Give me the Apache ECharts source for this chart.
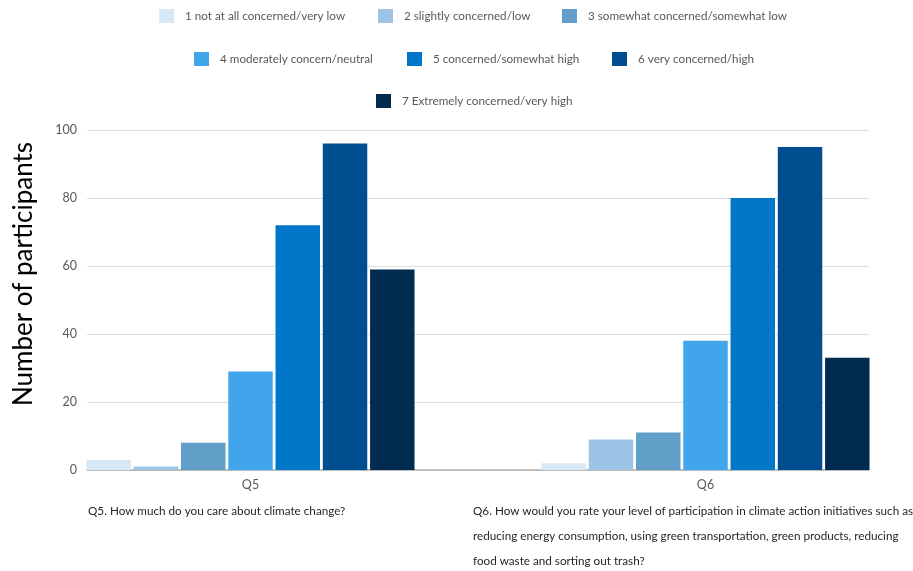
<!DOCTYPE html>
<html>
<head>
<meta charset="utf-8">
<script src="https://cdn.jsdelivr.net/npm/echarts@6/dist/echarts.min.js"></script>
<style>
  html, body { margin: 0; padding: 0; background: #ffffff; }
  #chart { width: 913px; height: 571px; }
</style>
</head>
<body>
<div id="chart"></div>
<script>
// Survey answers per question, counted per rating level
const categories = ['Q5', 'Q6'];
const levels = [
  '1 not at all concerned/very low',
  '2 slightly concerned/low',
  '3 somewhat concerned/somewhat low',
  '4 moderately concern/neutral',
  '5 concerned/somewhat high',
  '6 very concerned/high',
  '7 Extremely concerned/very high'
];
const q5Counts = [3, 1, 8, 29, 72, 96, 59];
const q6Counts = [2, 9, 11, 38, 80, 95, 33];
const yTicks = { min: 0, max: 100, interval: 20 };
const questions = [
  ['Q5. How much do you care about climate change?'],
  ['Q6. How would you rate your level of participation in climate action initiatives such as',
   'reducing energy consumption, using green transportation, green products, reducing',
   'food waste and sorting out trash?']
];
const yTitle = 'Number of participants';

const palette = ['#d9e8f5', '#9dc3e6', '#619ec8', '#40a5eb', '#0077c8', '#004d8f', '#012c50'];
const FONT = 'Lato';
const SMALL = 11.7;

// legend: one small legend per entry, laid out in three centred rows
const legendSpots = [
  [159, 9], [378, 9], [562, 9],
  [194, 52], [407, 52], [612, 52],
  [376, 94]
];
const legends = levels.map((name, i) => ({
  data: [name],
  left: legendSpots[i][0],
  top: legendSpots[i][1],
  padding: 0,
  icon: 'rect',
  itemWidth: 15,
  itemHeight: 14,
  selectedMode: false,
  textStyle: { fontFamily: FONT, fontSize: SMALL, color: '#595959', padding: [0, 0, 0, 6] }
}));

const series = levels.map((name, i) => ({
  name: name,
  type: 'bar',
  xAxisIndex: 1,
  yAxisIndex: 1,
  barGap: '6.3%',
  barCategoryGap: '27.9%',
  itemStyle: { color: palette[i] },
  data: [q5Counts[i], q6Counts[i]]
}));

// caption texts under each question group
const captionX = [88, 473];
const graphics = [];
questions.forEach((lines, qi) => {
  lines.forEach((line, li) => {
    graphics.push({
      type: 'text',
      left: captionX[qi],
      top: 505 + li * 25,
      style: { text: line, fontFamily: FONT, fontSize: SMALL, fill: '#262626' }
    });
  });
});
graphics.push({
  type: 'text',
  x: 23.5,
  y: 274,
  rotation: Math.PI / 2,
  style: {
    text: yTitle, fontFamily: FONT, fontSize: 26, fill: '#000000',
    textAlign: 'center', textVerticalAlign: 'middle'
  }
});

const chart = echarts.init(document.getElementById('chart'), null, { renderer: 'canvas' });
chart.setOption({
  animation: false,
  backgroundColor: '#ffffff',
  legend: legends,
  grid: [
    { left: 87, right: 44, top: 130, bottom: 101, outerBoundsMode: 'none' },
    { left: 23, width: 910, top: 130, bottom: 101, outerBoundsMode: 'none' }
  ],
  xAxis: [
    {
      gridIndex: 0, type: 'category', data: categories,
      axisLine: { lineStyle: { color: '#b0b0b0', width: 1.5 } },
      axisTick: { show: false }, axisLabel: { show: false }
    },
    {
      gridIndex: 1, type: 'category', data: categories,
      axisLine: { show: false }, axisTick: { show: false },
      axisLabel: { fontFamily: FONT, fontSize: 12.5, color: '#595959', margin: 8 }
    }
  ],
  yAxis: [
    {
      gridIndex: 0, type: 'value', min: yTicks.min, max: yTicks.max, interval: yTicks.interval,
      axisLine: { show: false }, axisTick: { show: false },
      axisLabel: { fontFamily: FONT, fontSize: 12.5, color: '#595959', margin: 10 },
      splitLine: { lineStyle: { color: '#dcdcdc', width: 1 } }
    },
    {
      gridIndex: 1, type: 'value', min: yTicks.min, max: yTicks.max, interval: yTicks.interval,
      show: false, splitLine: { show: false }
    }
  ],
  graphic: graphics,
  series: series
});
</script>
</body>
</html>
